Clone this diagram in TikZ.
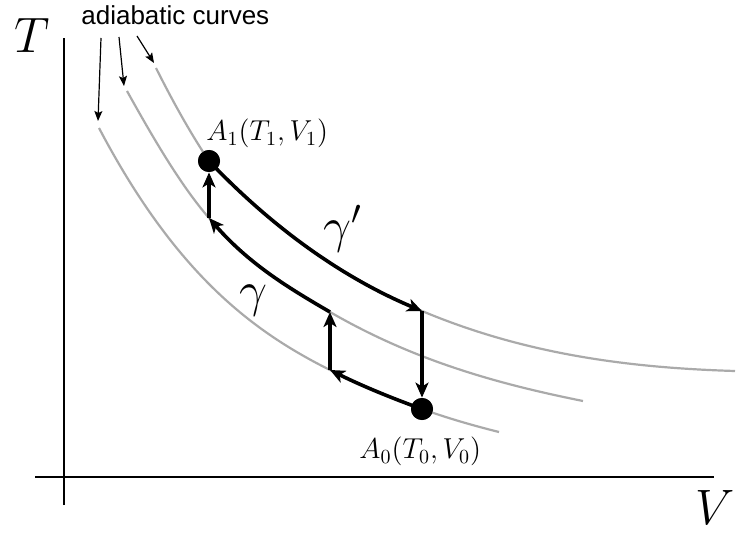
\documentclass[tikz,border=0pt]{standalone}
\usepackage{fontspec}
\setsansfont{Liberation Sans}
\usetikzlibrary{arrows.meta}
\definecolor{adgray}{RGB}{170,170,170}
\begin{document}
\begin{tikzpicture}[x=0.5pt,y=-0.5pt,
  adiab/.style={draw=adgray, line width=1.1pt},
  axisline/.style={line width=0.75pt},
  proc/.style={line width=1.8pt, -{Stealth[length=7.5pt,width=6.5pt,inset=2pt]}},
  pointer/.style={line width=0.6pt, -{Stealth[length=5pt,width=4pt,inset=1pt]}},
  dot/.style={circle, fill=black, inner sep=0pt, minimum size=11pt},
  lbl/.style={inner sep=0pt, font=\fontsize{14.5}{17}\selectfont},
  axlabel/.style={inner sep=0pt, font=\fontsize{27}{30}\selectfont},
  greek/.style={inner sep=0pt, font=\fontsize{27}{30}\selectfont}]
\useasboundingbox (0,0) rectangle (739,535);

% axes
\coordinate (yb) at (64,505);
\coordinate (yt) at (64,38);
\coordinate (xl) at (35,477);
\coordinate (xr) at (714,477);
\draw[axisline] (yb) -- (yt);
\draw[axisline] (xl) -- (xr);
\node[axlabel] (Tlab) at (32,36) {$T$};
\node[axlabel] (Vlab) at (715,507) {$V$};

% key points
\coordinate (s3) at (156,68);
\coordinate (c3) at (422,311);
\coordinate (e3) at (735,371);
\coordinate (s2) at (127,91);
\coordinate (l2) at (209,218);
\coordinate (m2) at (330,312);
\coordinate (e2) at (583,401);
\coordinate (s1) at (99,128);
\coordinate (m1) at (330,370);
\coordinate (e1) at (499,432);
\node[dot] (A1) at (209,161) {};
\node[dot] (A0) at (422,409) {};

% adiabatic curves
\draw[adiab] (s3) .. controls (173.7,103.3) and (191.3,134.5) .. (A1.center)
  .. controls (280,235.6) and (351,281.2) .. (c3)
  .. controls (526.3,354.8) and (630.7,367.9) .. (e3);
\draw[adiab] (s2) .. controls (154.3,140.2) and (181.7,186.6) .. (l2)
  .. controls (249.3,264.3) and (289.7,288.6) .. (m2)
  .. controls (414.3,360.9) and (498.7,384.1) .. (e2);
\draw[adiab] (s1) .. controls (176,274.3) and (253,331.5) .. (m1)
  .. controls (360.7,385.3) and (391.3,398) .. (A0.center)
  .. controls (447.7,418.2) and (473.3,425.6) .. (e1);

% processes
\draw[proc] (A1.center) .. controls (280,235.6) and (351,281.2) .. (c3);
\draw[proc] (c3) -- (A0);
\draw[proc] (A0.center) .. controls (391.3,398) and (360.7,385.3) .. (m1);
\draw[proc] (m1) -- (m2);
\draw[proc] (m2) .. controls (289.7,288.6) and (249.3,264.3) .. (l2);
\draw[proc] (l2) -- (A1);
\node[dot] at (A1.center) {};
\node[dot] at (A0.center) {};

% labels
\node[lbl, anchor=west] (A1lab) at (206,133.5) {$A_1(T_1,V_1)$};
\node[lbl, anchor=west] (A0lab) at (359,451.5) {$A_0(T_0,V_0)$};
\node[greek] (g) at (253,301) {$\gamma$};
\node[greek] (gp) at (343,229) {$\gamma'$};

% annotation
\node[inner sep=0pt, anchor=base west, font=\sffamily\fontsize{13}{15}\selectfont] (adc) at (81,25) {adiabatic curves};
\coordinate (q1) at (101,38);
\coordinate (q2) at (119,37);
\coordinate (q3) at (137,36);
\coordinate (p1) at (98,121);
\coordinate (p2) at (124,86);
\coordinate (p3) at (154,63);
\draw[pointer] (q1) -- (p1);
\draw[pointer] (q2) -- (p2);
\draw[pointer] (q3) -- (p3);
\end{tikzpicture}
\end{document}
